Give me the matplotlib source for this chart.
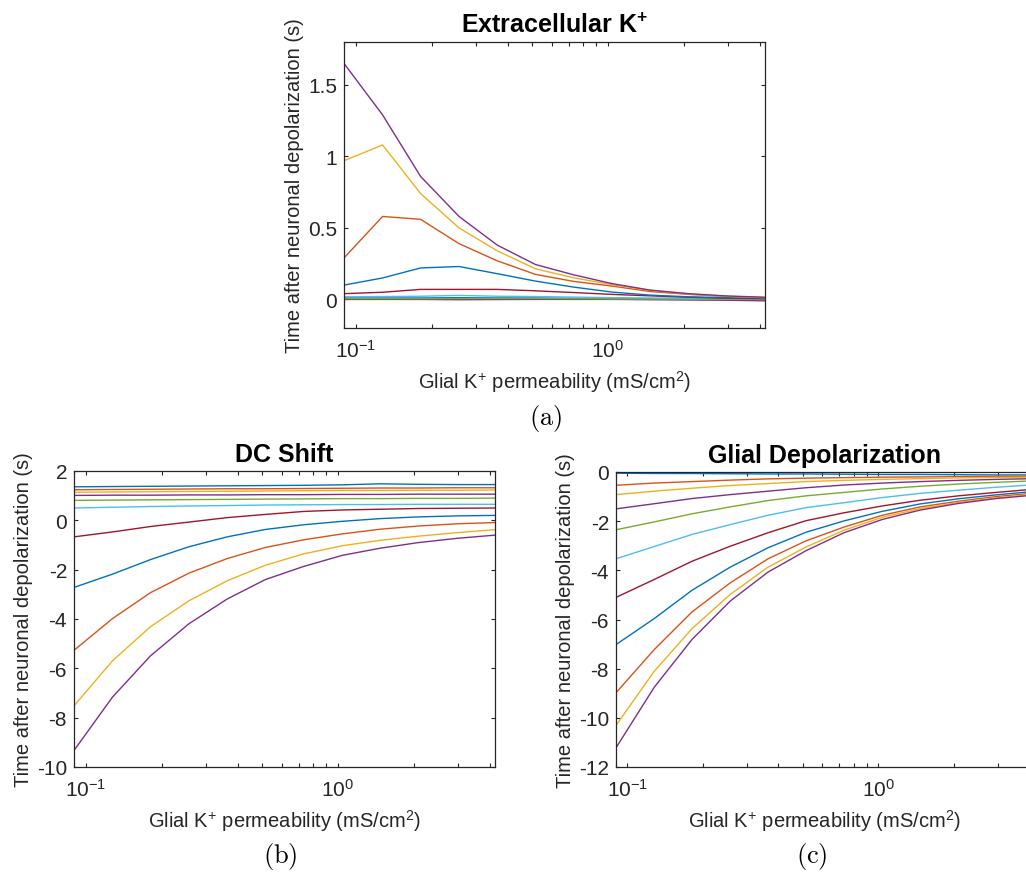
import numpy as np
import matplotlib
matplotlib.use('Agg')
import matplotlib.pyplot as plt
from matplotlib.ticker import LogLocator, NullFormatter, FixedLocator, FixedFormatter

plt.rcParams['font.family'] = ['Liberation Sans', 'DejaVu Sans']
plt.rcParams['axes.unicode_minus'] = False
plt.rcParams['mathtext.fontset'] = 'custom'
plt.rcParams['mathtext.rm'] = 'Liberation Sans'
plt.rcParams['mathtext.it'] = 'Liberation Sans:italic'
plt.rcParams['mathtext.bf'] = 'Liberation Sans:bold'

# glial K+ permeability (mS/cm^2)
perm = [0.09, 0.128, 0.181, 0.257, 0.364, 0.516, 0.731, 1.04, 1.47, 2.09, 2.96, 4.19]

# MATLAB default colour order
colors = ['#0072BD', '#D95319', '#EDB120', '#7E2F8E', '#77AC30', '#4DBEEE', '#A2142F']

# (a) extracellular K+ , one row per run
ext_k = [
    [0.01, 0.01, 0.01, 0.012, 0.01, 0.01, 0.008, 0.006, 0.005, 0.004, 0.003, 0.003],
    [0.003, 0.003, 0.002, 0.002, 0.002, 0.002, 0.002, 0.001, 0.001, 0.001, 0.001, 0.001],
    [0.0, 0.0, 0.0, 0.0, 0.001, 0.001, 0.001, 0.001, 0.0, 0.0, 0.0, 0.0],
    [0.0, 0.0, 0.0, -0.002, -0.001, 0.0, 0.0, 0.0, -0.002, -0.004, -0.006, -0.01],
    [0.005, 0.005, 0.005, 0.006, 0.006, 0.006, 0.005, 0.003, 0.002, 0.001, 0.0, 0.0],
    [0.018, 0.02, 0.022, 0.028, 0.022, 0.02, 0.016, 0.012, 0.01, 0.008, 0.006, 0.005],
    [0.04, 0.05, 0.07, 0.07, 0.07, 0.06, 0.048, 0.035, 0.025, 0.015, 0.008, 0.005],
    [0.10, 0.15, 0.22, 0.23, 0.18, 0.128, 0.086, 0.051, 0.03, 0.018, 0.012, 0.01],
    [0.29, 0.58, 0.56, 0.39, 0.27, 0.175, 0.126, 0.093, 0.055, 0.035, 0.02, 0.012],
    [0.97, 1.08, 0.74, 0.50, 0.34, 0.214, 0.151, 0.103, 0.063, 0.038, 0.022, 0.013],
    [1.65, 1.29, 0.86, 0.58, 0.38, 0.244, 0.172, 0.11, 0.065, 0.04, 0.024, 0.015],
]

# (b) DC shift
dc_shift = [
    [1.36, 1.37, 1.38, 1.39, 1.40, 1.41, 1.42, 1.44, 1.48, 1.46, 1.45, 1.45],
    [1.24, 1.25, 1.26, 1.27, 1.28, 1.28, 1.29, 1.30, 1.31, 1.31, 1.32, 1.32],
    [1.14, 1.15, 1.16, 1.17, 1.18, 1.19, 1.20, 1.21, 1.21, 1.22, 1.22, 1.23],
    [1.01, 1.02, 1.02, 1.03, 1.03, 1.04, 1.04, 1.05, 1.05, 1.06, 1.06, 1.06],
    [0.81, 0.82, 0.83, 0.84, 0.85, 0.86, 0.87, 0.88, 0.88, 0.89, 0.89, 0.90],
    [0.50, 0.53, 0.56, 0.58, 0.60, 0.62, 0.63, 0.64, 0.64, 0.65, 0.65, 0.65],
    [-0.67, -0.47, -0.25, -0.07, 0.11, 0.24, 0.36, 0.42, 0.45, 0.48, 0.49, 0.50],
    [-2.72, -2.18, -1.59, -1.07, -0.67, -0.37, -0.18, -0.04, 0.07, 0.14, 0.18, 0.20],
    [-5.27, -3.98, -2.93, -2.14, -1.55, -1.10, -0.79, -0.55, -0.36, -0.23, -0.14, -0.09],
    [-7.52, -5.69, -4.31, -3.26, -2.45, -1.82, -1.36, -1.03, -0.81, -0.64, -0.50, -0.38],
    [-9.33, -7.16, -5.49, -4.19, -3.19, -2.40, -1.87, -1.42, -1.13, -0.90, -0.73, -0.60],
]

# (c) glial depolarization
glial_dep = [
    [-0.05, -0.06, -0.06, -0.07, -0.08, -0.08, -0.09, -0.10, -0.10, -0.11, -0.12, -0.12],
    [-0.54, -0.45, -0.39, -0.33, -0.28, -0.25, -0.23, -0.21, -0.20, -0.19, -0.18, -0.17],
    [-0.92, -0.78, -0.66, -0.55, -0.47, -0.39, -0.34, -0.30, -0.27, -0.24, -0.22, -0.21],
    [-1.50, -1.29, -1.08, -0.92, -0.78, -0.64, -0.53, -0.45, -0.39, -0.34, -0.30, -0.27],
    [-2.35, -2.03, -1.70, -1.42, -1.16, -0.97, -0.83, -0.69, -0.58, -0.49, -0.42, -0.36],
    [-3.53, -3.03, -2.54, -2.14, -1.76, -1.45, -1.25, -1.04, -0.87, -0.74, -0.62, -0.52],
    [-5.10, -4.37, -3.63, -3.02, -2.47, -1.98, -1.66, -1.38, -1.15, -0.97, -0.83, -0.70],
    [-7.02, -5.96, -4.81, -3.87, -3.08, -2.45, -1.99, -1.60, -1.30, -1.09, -0.93, -0.79],
    [-8.98, -7.22, -5.69, -4.51, -3.53, -2.80, -2.24, -1.76, -1.42, -1.19, -1.00, -0.86],
    [-10.31, -8.10, -6.37, -4.98, -3.87, -3.05, -2.37, -1.84, -1.49, -1.24, -1.05, -0.90],
    [-11.22, -8.75, -6.81, -5.25, -4.07, -3.20, -2.47, -1.93, -1.55, -1.28, -1.08, -0.94],
]

W, H = 1026, 878
fig = plt.figure(figsize=(W / 100, H / 100), dpi=100)

def px_axes(left, right, top, bottom):
    return fig.add_axes([left / W, 1 - bottom / H, (right - left) / W, (bottom - top) / H])

def style(ax, data, title, ylim, yticks, ylabels):
    for i, row in enumerate(data):
        ax.plot(perm, row, color=colors[i % 7], lw=1.0)
    ax.set_xscale('log')
    ax.set_xlim(0.09, 4.19)
    ax.set_ylim(*ylim)
    ax.xaxis.set_major_locator(LogLocator(base=10, numticks=10))
    ax.xaxis.set_minor_locator(LogLocator(base=10, subs=np.arange(2, 10), numticks=10))
    ax.xaxis.set_minor_formatter(NullFormatter())
    ax.yaxis.set_major_locator(FixedLocator(yticks))
    ax.yaxis.set_major_formatter(FixedFormatter(ylabels))
    ax.tick_params(which='both', direction='in', top=True, right=True,
                   length=3, width=0.8, color='#262626', labelsize=15,
                   labelcolor='#262626')
    ax.tick_params(axis='x', pad=8)
    ax.tick_params(axis='y', pad=5)
    for s in ax.spines.values():
        s.set_color('#262626')
        s.set_linewidth(0.9)
    ax.set_title(title, fontsize=18, fontweight='bold', pad=7)
    ax.set_xlabel(r'Glial K$^{+}$ permeability (mS/cm$^{2}$)', fontsize=14.5, color='#262626', labelpad=5)
    ax.set_ylabel('Time after neuronal depolarization (s)', fontsize=14.5, color='#262626', labelpad=3)

ax_a = px_axes(344, 765, 43, 329)
style(ax_a, ext_k, r'Extracellular K$^{\mathbf{+}}$', (-0.2, 1.8),
      [0, 0.5, 1, 1.5], ['0', '0.5', '1', '1.5'])

ax_b = px_axes(74, 495, 472, 768)
style(ax_b, dc_shift, 'DC Shift', (-10, 2),
      [-10, -8, -6, -4, -2, 0, 2], ['-10', '-8', '-6', '-4', '-2', '0', '2'])

ax_c = px_axes(616, 1034, 473, 768)
style(ax_c, glial_dep, 'Glial Depolarization', (-12, 0),
      [-12, -10, -8, -6, -4, -2, 0], ['-12', '-10', '-8', '-6', '-4', '-2', '0'])

# sub-figure letters
for label, xc, yc in [('a', 546, 418), ('b', 280, 857), ('c', 812, 857)]:
    fig.text(xc / W, 1 - yc / H, r'$\mathrm{(%s)}$' % label, ha='center', va='center',
             fontsize=19, math_fontfamily='cm')

fig.savefig('out.png', dpi=100)
